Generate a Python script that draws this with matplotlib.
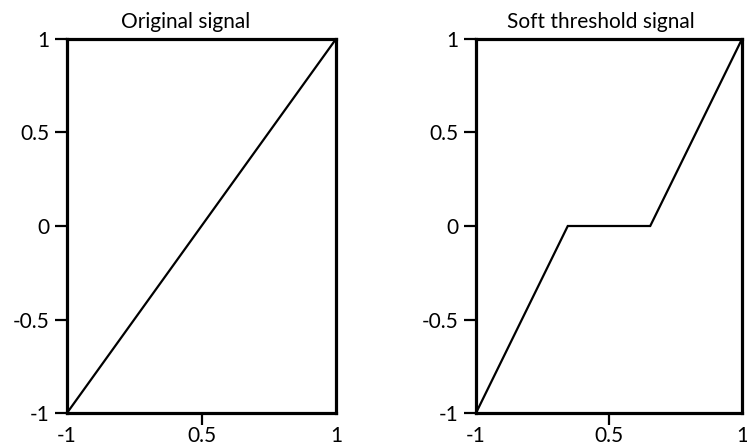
import matplotlib
matplotlib.use('Agg')
import matplotlib.pyplot as plt

plt.rcParams['font.family'] = ['Lato', 'DejaVu Sans']

# original signal
x_orig = [-1, 1]
y_orig = [-1, 1]

# soft threshold signal
x_soft = [-1, -0.31, 0.31, 1]
y_soft = [-1, 0, 0, 1]

titles = ['Original signal', 'Soft threshold signal']
xticks = [-1, 0, 1]
xlabels = ['-1', '0.5', '1']
yticks = [1, 0.5, 0, -0.5, -1]
ylabels = ['1', '0.5', '0', '-0.5', '-1']

fig = plt.figure(figsize=(7.47, 4.48), dpi=100)
ax1 = fig.add_axes([67/747, 1-413/448, 269/747, 374/448])
ax2 = fig.add_axes([476/747, 1-413/448, 266/747, 374/448])

for ax, xs, ys, title, toff in [(ax1, x_orig, y_orig, titles[0], -0.06),
                                 (ax2, x_soft, y_soft, titles[1], -0.03)]:
    ax.plot(xs, ys, color='black', lw=1.6, solid_joinstyle='miter')
    ax.set_xlim(-1, 1)
    ax.set_ylim(-1, 1)
    for s in ax.spines.values():
        s.set_linewidth(2.3)
    ax.set_xticks(xticks)
    ax.set_xticklabels(xlabels)
    ax.set_yticks(yticks)
    ax.set_yticklabels(ylabels)
    ax.tick_params(axis='both', direction='out', length=8.5, width=1.6,
                   labelsize=15, colors='black', pad=4)
    ax.tick_params(axis='x', pad=1)
    xt = ax.xaxis.get_major_ticks()
    xt[0].tick1line.set_visible(False)
    xt[-1].tick1line.set_visible(False)
    ax.text(0.5 + toff, 1.02, title, transform=ax.transAxes,
            ha='center', va='bottom', fontsize=15)

fig.savefig('out.png', dpi=100)
